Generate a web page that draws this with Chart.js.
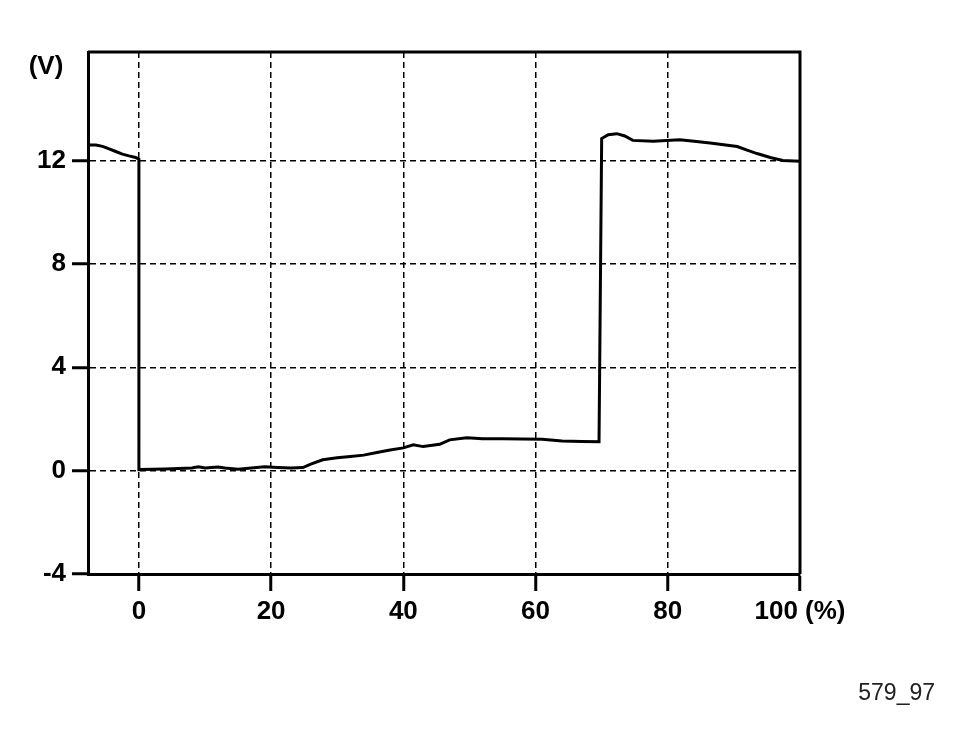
<!DOCTYPE html>
<html>
<head>
<meta charset="utf-8">
<script src="https://cdn.jsdelivr.net/npm/chart.js@4/dist/chart.umd.min.js"></script>
<style>
html,body{margin:0;padding:0;background:#fff;}
#c{display:block;}
</style>
</head>
<body>
<canvas id="c" width="965" height="750"></canvas>
<script>
const xValues = [-7.7,-6.5,-5.5,-4.5,-3.5,-2.5,-1.5,-0.5,0,0,2,4,6,8,9,10,12,13,15,17,19,21,23,24.8,26,27.8,30,32,34,36,38,40,41.5,43,45.5,47,49.6,52,55,58,61,64,67,69.6,70.0,71,72.3,73.5,74.7,77.8,81.8,84,86.4,90.5,92,93.5,95.5,97.4,100];
const yValues = [12.6,12.6,12.55,12.45,12.35,12.25,12.18,12.12,12.05,0.04,0.05,0.06,0.08,0.1,0.15,0.1,0.14,0.1,0.05,0.1,0.15,0.12,0.1,0.12,0.25,0.42,0.5,0.55,0.6,0.7,0.8,0.88,1.0,0.93,1.02,1.19,1.27,1.23,1.23,1.22,1.21,1.15,1.13,1.12,12.85,13.0,13.04,12.95,12.78,12.75,12.8,12.75,12.68,12.54,12.4,12.27,12.12,12.0,11.97];
const xTicks = [0,20,40,60,80,100];
const yTicks = [-4,0,4,8,12];
const xUnit = "(%)";
const yUnit = "(V)";
const figId = "579_97";

const points = xValues.map((x,i)=>({x:x,y:yValues[i]}));
const tickFont = {family:"'Liberation Sans', Arial, sans-serif", size:26, weight:'bold'};

const extras = {
  id:'extras',
  afterDraw(chart){
    const {ctx, chartArea:a} = chart;
    ctx.save();
    ctx.strokeStyle='#000';
    ctx.lineWidth=3;
    ctx.beginPath();
    ctx.moveTo(a.left, a.top);
    ctx.lineTo(a.right, a.top);
    ctx.lineTo(a.right, a.bottom);
    ctx.stroke();
    ctx.fillStyle='#000';
    ctx.font="bold 26px 'Liberation Sans', Arial, sans-serif";
    ctx.textAlign='center';
    ctx.textBaseline='middle';
    ctx.fillText(yUnit, 46, 67);
    ctx.font="23px 'Liberation Sans', Arial, sans-serif";
    ctx.fillStyle='#222';
    ctx.textAlign='right';
    ctx.fillText(figId, 935, 694);
    ctx.restore();
  }
};

new Chart(document.getElementById('c'), {
  type:'scatter',
  data:{datasets:[{data:points, showLine:true, borderColor:'#000', borderWidth:3, pointRadius:0, tension:0, fill:false}]},
  options:{
    responsive:false, animation:false,
    layout:{padding:{top:52, right:165, left:0, bottom:0}},
    plugins:{legend:{display:false}, tooltip:{enabled:false}},
    scales:{
      x:{
        type:'linear', min:-7.7, max:100,
        afterBuildTicks:s=>{s.ticks = xTicks.map(v=>({value:v}));},
        afterFit:s=>{s.height = 176;},
        grid:{color:'#000', lineWidth:1.5, tickLength:17, tickWidth:3, tickColor:'#000', tickBorderDash:[]},
        border:{display:true, color:'#000', width:3, dash:[6,4]},
        ticks:{font:tickFont, color:'#000', padding:5, maxRotation:0, autoSkip:false,
          callback:v=> v===100 ? '100 ' + xUnit : String(v)}
      },
      y:{
        type:'linear', min:-4, max:16.2,
        afterBuildTicks:s=>{s.ticks = yTicks.map(v=>({value:v}));},
        afterFit:s=>{s.width = 88;},
        grid:{color:'#000', lineWidth:1.5, tickLength:16, tickWidth:3, tickColor:'#000', tickBorderDash:[]},
        border:{display:true, color:'#000', width:3, dash:[6,4]},
        ticks:{font:tickFont, color:'#000', padding:6, autoSkip:false, callback:v=>String(v)}
      }
    }
  },
  plugins:[extras]
});
</script>
</body>
</html>
